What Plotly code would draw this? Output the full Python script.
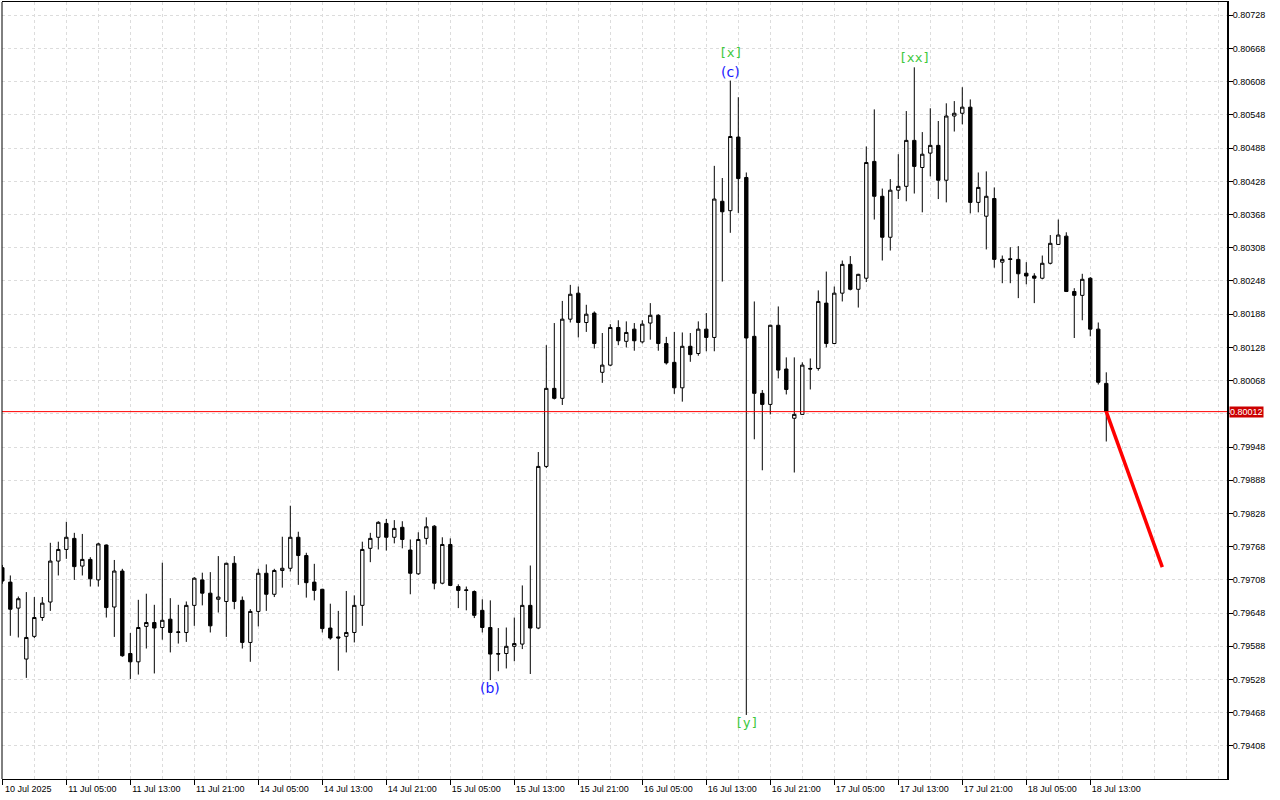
import plotly.graph_objects as go

# ---------------- data ----------------
opens = [0.79730, 0.79704, 0.79657, 0.79565, 0.79606, 0.79640, 0.79668, 0.79742, 0.79763, 0.79783,
         0.79733, 0.79745, 0.79708, 0.79771, 0.79659, 0.79724, 0.79575, 0.79560, 0.79624, 0.79631,
         0.79622, 0.79637, 0.79613, 0.79613, 0.79662, 0.79708, 0.79684, 0.79673, 0.79669, 0.79738,
         0.79671, 0.79595, 0.79651, 0.79720, 0.79682, 0.79725, 0.79729, 0.79785, 0.79752, 0.79704,
         0.79691, 0.79621, 0.79605, 0.79606, 0.79613, 0.79662, 0.79765, 0.79785, 0.79810, 0.79785,
         0.79803, 0.79762, 0.79719, 0.79783, 0.79805, 0.79702, 0.79772, 0.79696, 0.79690, 0.79687,
         0.79653, 0.79622, 0.79575, 0.79575, 0.79588, 0.79592, 0.79662, 0.79621, 0.79913, 0.80054,
         0.80036, 0.80179, 0.80226, 0.80173, 0.80190, 0.80083, 0.80096, 0.80164, 0.80139, 0.80161,
         0.80138, 0.80172, 0.80186, 0.80135, 0.80101, 0.80055, 0.80130, 0.80117, 0.80161, 0.80146,
         0.80392, 0.80375, 0.80508, 0.80435, 0.80148, 0.80045, 0.80025, 0.80168, 0.80089, 0.80000,
         0.80007, 0.80090, 0.80090, 0.80208, 0.80135, 0.80226, 0.80278, 0.80233, 0.80253, 0.80464,
         0.80401, 0.80327, 0.80412, 0.80419, 0.80502, 0.80453, 0.80479, 0.80493, 0.80430, 0.80546,
         0.80551, 0.80562, 0.80390, 0.80365, 0.80397, 0.80282, 0.80288, 0.80287, 0.80262, 0.80257,
         0.80253, 0.80280, 0.80314, 0.80329, 0.80229, 0.80222, 0.80253, 0.80161, 0.80063]
highs = [0.79735, 0.79716, 0.79678, 0.79686, 0.79677, 0.79677, 0.79775, 0.79777, 0.79813, 0.79793,
         0.79791, 0.79749, 0.79775, 0.79772, 0.79744, 0.79728, 0.79612, 0.79672, 0.79683, 0.79663,
         0.79739, 0.79675, 0.79663, 0.79669, 0.79713, 0.79721, 0.79722, 0.79751, 0.79739, 0.79751,
         0.79678, 0.79655, 0.79728, 0.79736, 0.79728, 0.79786, 0.79842, 0.79795, 0.79757, 0.79737,
         0.79692, 0.79665, 0.79652, 0.79688, 0.79680, 0.79777, 0.79793, 0.79814, 0.79818, 0.79816,
         0.79814, 0.79781, 0.79794, 0.79821, 0.79807, 0.79785, 0.79783, 0.79700, 0.79696, 0.79689,
         0.79673, 0.79671, 0.79621, 0.79622, 0.79640, 0.79698, 0.79734, 0.79939, 0.80132, 0.80172,
         0.80212, 0.80241, 0.80238, 0.80205, 0.80193, 0.80154, 0.80170, 0.80177, 0.80175, 0.80172,
         0.80177, 0.80208, 0.80188, 0.80147, 0.80156, 0.80155, 0.80154, 0.80175, 0.80190, 0.80456,
         0.80434, 0.80610, 0.80580, 0.80444, 0.80211, 0.80051, 0.80169, 0.80202, 0.80110, 0.80110,
         0.80101, 0.80108, 0.80231, 0.80265, 0.80238, 0.80285, 0.80293, 0.80261, 0.80491, 0.80558,
         0.80415, 0.80432, 0.80477, 0.80555, 0.80634, 0.80517, 0.80560, 0.80537, 0.80569, 0.80573,
         0.80598, 0.80576, 0.80444, 0.80446, 0.80417, 0.80294, 0.80309, 0.80311, 0.80282, 0.80262,
         0.80294, 0.80331, 0.80359, 0.80336, 0.80235, 0.80261, 0.80255, 0.80173, 0.80083]
lows = [0.79701, 0.79607, 0.79604, 0.79531, 0.79603, 0.79634, 0.79652, 0.79716, 0.79746, 0.79708,
        0.79716, 0.79696, 0.79696, 0.79640, 0.79605, 0.79569, 0.79529, 0.79537, 0.79584, 0.79539,
        0.79600, 0.79577, 0.79593, 0.79596, 0.79625, 0.79662, 0.79613, 0.79649, 0.79605, 0.79655,
        0.79584, 0.79560, 0.79624, 0.79652, 0.79677, 0.79694, 0.79723, 0.79699, 0.79676, 0.79671,
        0.79613, 0.79600, 0.79544, 0.79577, 0.79595, 0.79625, 0.79740, 0.79763, 0.79761, 0.79774,
        0.79765, 0.79682, 0.79717, 0.79772, 0.79691, 0.79700, 0.79697, 0.79657, 0.79653, 0.79639,
        0.79613, 0.79527, 0.79543, 0.79548, 0.79561, 0.79583, 0.79538, 0.79619, 0.79910, 0.80034,
        0.80024, 0.80173, 0.80146, 0.80156, 0.80126, 0.80064, 0.80094, 0.80132, 0.80128, 0.80122,
        0.80135, 0.80142, 0.80122, 0.80097, 0.80044, 0.80030, 0.80102, 0.80113, 0.80121, 0.80121,
        0.80247, 0.80335, 0.80371, 0.79464, 0.79962, 0.79906, 0.80007, 0.80072, 0.80043, 0.79902,
        0.80006, 0.80052, 0.80086, 0.80128, 0.80134, 0.80211, 0.80231, 0.80200, 0.80246, 0.80359,
        0.80285, 0.80303, 0.80396, 0.80392, 0.80406, 0.80372, 0.80437, 0.80396, 0.80390, 0.80518,
        0.80531, 0.80370, 0.80372, 0.80305, 0.80272, 0.80244, 0.80244, 0.80217, 0.80242, 0.80208,
        0.80251, 0.80278, 0.80313, 0.80228, 0.80145, 0.80177, 0.80148, 0.80061, 0.79958]
closes = [0.79706, 0.79655, 0.79674, 0.79604, 0.79640, 0.79666, 0.79742, 0.79763, 0.79785, 0.79732,
          0.79745, 0.79710, 0.79773, 0.79658, 0.79724, 0.79571, 0.79560, 0.79622, 0.79631, 0.79621,
          0.79635, 0.79613, 0.79614, 0.79662, 0.79711, 0.79684, 0.79625, 0.79677, 0.79738, 0.79669,
          0.79595, 0.79651, 0.79720, 0.79682, 0.79725, 0.79729, 0.79785, 0.79752, 0.79703, 0.79689,
          0.79620, 0.79603, 0.79603, 0.79613, 0.79662, 0.79763, 0.79783, 0.79812, 0.79785, 0.79801,
          0.79781, 0.79720, 0.79781, 0.79804, 0.79702, 0.79772, 0.79698, 0.79689, 0.79689, 0.79644,
          0.79622, 0.79574, 0.79574, 0.79588, 0.79593, 0.79662, 0.79621, 0.79913, 0.80054, 0.80036,
          0.80179, 0.80224, 0.80173, 0.80188, 0.80135, 0.80096, 0.80164, 0.80140, 0.80155, 0.80140,
          0.80170, 0.80186, 0.80135, 0.80100, 0.80055, 0.80130, 0.80115, 0.80161, 0.80146, 0.80396,
          0.80373, 0.80509, 0.80433, 0.80145, 0.80045, 0.80025, 0.80168, 0.80087, 0.80052, 0.80007,
          0.80096, 0.80089, 0.80211, 0.80135, 0.80226, 0.80278, 0.80233, 0.80260, 0.80462, 0.80401,
          0.80327, 0.80412, 0.80419, 0.80502, 0.80455, 0.80477, 0.80493, 0.80430, 0.80546, 0.80551,
          0.80562, 0.80390, 0.80417, 0.80401, 0.80287, 0.80287, 0.80287, 0.80261, 0.80257, 0.80253,
          0.80280, 0.80316, 0.80331, 0.80229, 0.80222, 0.80251, 0.80161, 0.80065, 0.80012]
bar_index = list(range(len(opens)))

tick_positions = list(range(0, 137, 8))
tick_labels = ["10 Jul 2025", "11 Jul 05:00", "11 Jul 13:00", "11 Jul 21:00", "14 Jul 05:00",
               "14 Jul 13:00", "14 Jul 21:00", "15 Jul 05:00", "15 Jul 13:00", "15 Jul 21:00",
               "16 Jul 05:00", "16 Jul 13:00", "16 Jul 21:00", "17 Jul 05:00", "17 Jul 13:00",
               "17 Jul 21:00", "18 Jul 05:00", "18 Jul 13:00"]
grid_positions = list(range(0, 153, 4))

price_ticks = [0.79408, 0.79468, 0.79528, 0.79588, 0.79648, 0.79708, 0.79768, 0.79828, 0.79888,
               0.79948, 0.80008, 0.80068, 0.80128, 0.80188, 0.80248, 0.80308, 0.80368, 0.80428,
               0.80488, 0.80548, 0.80608, 0.80668, 0.80728]

current_price = 0.80012
forecast_x = [138, 145]
forecast_y = [0.80012, 0.79731]

wave_texts = ["[x]", "(c)", "[xx]", "[y]", "(b)"]
wave_x = [91, 91, 114, 93, 61]
wave_y = [0.80660, 0.80626, 0.80651, 0.79450, 0.79513]
wave_colors = ["#3cc83c", "#1a1aff", "#3cc83c", "#3cc83c", "#1a1aff"]
wave_fonts = ["DejaVu Sans Mono", "DejaVu Sans", "DejaVu Sans Mono", "DejaVu Sans Mono", "DejaVu Sans"]

# ---------------- figure ----------------
FONT = "Liberation Sans"
GRID = "#dcdcdc"

fig = go.Figure()

fig.add_trace(go.Candlestick(
    x=bar_index, open=opens, high=highs, low=lows, close=closes,
    increasing=dict(fillcolor="white", line=dict(color="black", width=1)),
    decreasing=dict(fillcolor="black", line=dict(color="black", width=1)),
    whiskerwidth=0, showlegend=False, hoverinfo="skip",
))

fig.add_trace(go.Scatter(
    x=forecast_x, y=forecast_y, mode="lines",
    line=dict(color="#ff0000", width=3.5), showlegend=False, hoverinfo="skip",
))

# current price line
fig.add_shape(type="line", xref="paper", x0=0, x1=1, yref="y", y0=current_price, y1=current_price,
              line=dict(color="#ff0000", width=1), layer="above")
# left border
fig.add_shape(type="line", xref="paper", x0=0, x1=0, yref="paper", y0=0, y1=1,
              line=dict(color="black", width=1))

fig.add_annotation(x=1, xref="paper", xanchor="left", xshift=2, y=current_price, yref="y",
                   text=f"{current_price:.5f}", showarrow=False, bgcolor="#cc0000",
                   font=dict(family=FONT, size=9, color="white"), borderpad=0)

for t, xx, yy, c, fnt in zip(wave_texts, wave_x, wave_y, wave_colors, wave_fonts):
    fig.add_annotation(x=xx, y=yy, text=t, showarrow=False,
                       font=dict(family=fnt, size=14 if fnt == "DejaVu Sans" else 13, color=c))

# tick label hidden behind the current-price box, as in the reference
price_tick_text = ["" if abs(v - current_price) < 0.0002 else f"{v:.5f}" for v in price_ticks]

fig.update_layout(
    width=1280, height=800,
    margin=dict(l=2, r=53, t=2, b=21, autoexpand=False),
    paper_bgcolor="white", plot_bgcolor="white",
    boxgap=0.4,
    xaxis=dict(
        range=[-0.04, 153.09], rangeslider=dict(visible=False),
        tickmode="array", tickvals=tick_positions, ticktext=tick_labels,
        ticks="outside", ticklen=5, tickcolor="black",
        ticklabelshift=26, ticklabelstandoff=-4,
        tickfont=dict(family=FONT, size=9, color="black"),
        showgrid=True, gridcolor=GRID, griddash="3px,3px", gridwidth=1,
        minor=dict(tickmode="array", tickvals=grid_positions, showgrid=True,
                   gridcolor=GRID, griddash="3px,3px", gridwidth=1, ticks=""),
        showline=True, linecolor="black", linewidth=1, mirror=True,
        zeroline=False, automargin=False, fixedrange=True,
    ),
    yaxis=dict(
        side="right", range=[0.793483, 0.80752],
        tickmode="array", tickvals=price_ticks, ticktext=price_tick_text,
        ticks="outside", ticklen=4, tickcolor="black",
        ticklabelstandoff=-2,
        tickfont=dict(family=FONT, size=9, color="black"),
        showgrid=True, gridcolor=GRID, griddash="3px,3px", gridwidth=1,
        showline=True, linecolor="black", linewidth=2,
        zeroline=False, automargin=False, fixedrange=True,
    ),
)

fig.write_html("out.html", config={"displayModeBar": False},
               post_script="document.body.style.margin='0';document.body.style.overflow='hidden';")
